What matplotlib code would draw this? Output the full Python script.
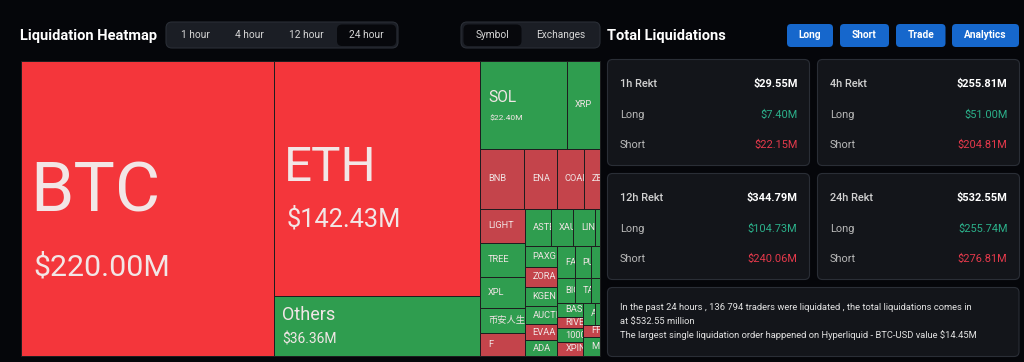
import matplotlib
matplotlib.use("Agg")
import matplotlib.pyplot as plt
from matplotlib.patches import Rectangle, FancyBboxPatch
from matplotlib.transforms import Bbox

# ---- data (USD millions) ----
coins = ["BTC", "ETH", "Others",
         "SOL", "XRP",
         "BNB", "ENA", "COAI", "ZEC",
         "LIGHT", "TREE", "XPL", "币安人生", "F",
         "ASTER", "XAUT", "LINK", "SUI",
         "PAXG", "ZORA", "KGEN", "AUCTION", "EVAA", "ADA",
         "FARTCOIN", "PUMP", "AVAX",
         "BIO", "TAO", "WLD",
         "BAS", "RIVER", "1000PEPE", "XPIN",
         "AAVE", "ONDO",
         "FF",
         "MITO"]
values = [220.00, 142.43, 36.36,
          22.40, 8.60,
          7.75, 5.80, 4.70, 2.90,
          4.45, 4.45, 4.05, 3.30, 3.00,
          2.88, 2.50, 2.43, 0.51,
          1.96, 1.91, 1.86, 1.72, 1.53, 1.52,
          1.60, 1.52, 0.80,
          1.28, 1.23, 0.64,
          1.05, 0.87, 1.04, 1.06,
          0.81, 0.31,
          0.58,
          0.98]
# which side dominated the liquidations: S = shorts (red), L = longs (green)
side = ["S", "S", "L",
        "L", "L",
        "S", "S", "S", "S",
        "S", "L", "L", "L", "S",
        "L", "L", "L", "L",
        "L", "S", "L", "L", "S", "L",
        "L", "L", "L",
        "L", "L", "L",
        "L", "S", "L", "S",
        "L", "L",
        "S",
        "L"]
# tiling order: (orientation, number of coins in strip)
strips = [("v", 1), ("v", 2), ("h", 2), ("h", 4), ("v", 5), ("h", 4), ("v", 6),
          ("h", 3), ("h", 3), ("v", 4), ("h", 2), ("h", 1), ("h", 1)]

periods = ["1h", "4h", "12h", "24h"]
total_rekt = [29.55, 255.81, 344.79, 532.55]
long_rekt = [7.40, 51.00, 104.73, 255.74]
short_rekt = [22.15, 204.81, 240.06, 276.81]

timeframes = ["1 hour", "4 hour", "12 hour", "24 hour"]
views = ["Symbol", "Exchanges"]
buttons = ["Long", "Short", "Trade", "Analytics"]

summary = ["In the past 24 hours , 136 794 traders were liquidated , the total liquidations comes in",
           "at $532.55 million",
           "The largest single liquidation order happened on Hyperliquid - BTC-USD value $14.45M"]

# ---- style ----
BG = "#05060a"
PANEL = "#13151a"
EDGE = "#2a2e36"
RED_BIG = "#f4363b"
RED = "#c4444b"
GREEN = "#2f9d4f"
TXT_GREEN = "#2bb08a"
TXT_RED = "#e5394b"
FONT = "Roboto"

plt.rcParams["font.family"] = [FONT, "Noto Sans CJK SC", "DejaVu Sans"]

fig = plt.figure(figsize=(10.24, 3.62), dpi=100, facecolor=BG)
ax = fig.add_axes([0, 0, 1, 1])
ax.set_xlim(0, 1024)
ax.set_ylim(362, 0)
ax.axis("off")
ax.set_facecolor(BG)


def box(x, y, w, h, fc, ec="none", r=5, lw=0.8, z=1):
    ax.add_patch(FancyBboxPatch((x, y), w, h, boxstyle=f"round,pad=0,rounding_size={r}",
                                fc=fc, ec=ec, lw=lw, zorder=z))


def strip_layout(vals, plan, x0, y0, x1, y1):
    rects = []
    rest = sum(vals)
    i = 0
    for orient, n in plan:
        grp = vals[i:i + n]
        s = sum(grp)
        if orient == "v":
            w = (x1 - x0) * s / rest
            y = y0
            for v in grp:
                h = (y1 - y0) * v / s
                rects.append((x0, y, w, h))
                y += h
            x0 += w
        else:
            h = (y1 - y0) * s / rest
            x = x0
            for v in grp:
                w = (x1 - x0) * v / s
                rects.append((x, y0, w, h))
                x += w
            y0 += h
        rest -= s
        i += n
    return rects


def clip_to(t, x, y, w, h):
    (ax0, ay0), (ax1, ay1) = ax.transData.transform([(x, y), (x + w, y + h)])
    t.set_clip_box(Bbox.from_extents(min(ax0, ax1), min(ay0, ay1), max(ax0, ax1), max(ay0, ay1)))
    t.set_clip_on(True)


# ---- header ----
ax.text(20, 36, "Liquidation Heatmap", color="white", fontsize=10.5, fontweight="bold",
        va="center", ha="left")
box(166, 22, 232, 26, "#1b1e25", EDGE, r=6)
box(337, 24.5, 59, 21.5, "#07080c", r=5, z=2)
for name, cx in zip(timeframes, [195, 249, 306.5, 366.5]):
    ax.text(cx, 35.5, name, color="#d6d6d6", fontsize=7.3, ha="center", va="center", zorder=3)

box(461, 22, 139, 26, "#1b1e25", EDGE, r=6)
box(463.5, 24.5, 58, 21.5, "#07080c", r=5, z=2)
for name, cx in zip(views, [492.5, 560.5]):
    ax.text(cx, 35.5, name, color="#d6d6d6", fontsize=7.3, ha="center", va="center", zorder=3)

ax.text(607, 36, "Total Liquidations", color="white", fontsize=10.5, fontweight="bold",
        va="center", ha="left")
for name, (bx, bw) in zip(buttons, [(787, 46), (840, 49), (896, 49.5), (952, 67)]):
    box(bx, 24, bw, 23, "#1667cc", r=4)
    ax.text(bx + bw / 2, 35.5, name, color="white", fontsize=7.3, fontweight="bold",
            ha="center", va="center", zorder=3)

# ---- treemap ----
cells = strip_layout(values, strips, 20.5, 61, 600, 356)
# name size, value size, name y-fraction, value y-fraction, name pad, value pad
big_labels = {"BTC": (50, 21.8, 0.445, 0.70, 10, 13), "ETH": (35.5, 18.3, 0.455, 0.672, 10, 13),
              "Others": (13, 10.0, 0.32, 0.72, 8, 8), "SOL": (11.2, 6.1, 0.42, 0.645, 8, 9)}
for name, v, sd, (x, y, w, h) in zip(coins, values, side, cells):
    if sd == "S":
        fc = RED_BIG if v > 100 else RED
    else:
        fc = GREEN
    ax.add_patch(Rectangle((x, y), w, h, fc=fc, ec="#1d1d1f", lw=0.7, zorder=2))
    if name in big_labels:
        fs1, fs2, f1, f2, dx1, dx2 = big_labels[name]
        t1 = ax.text(x + dx1, y + h * f1, name, color="#f2e6e6", fontsize=fs1,
                     ha="left", va="center", zorder=3)
        t2 = ax.text(x + dx2, y + h * f2, f"${v:.2f}M", color="#f2e6e6", fontsize=fs2,
                     ha="left", va="center", zorder=3)
        clip_to(t1, x, y, w, h)
        clip_to(t2, x, y, w, h)
    elif w > 9:
        # tiny slivers show no label at all
        t = ax.text(x + min(8, w - 4), y + h / 2, name, color="#f0e4e4", fontsize=6.7,
                    ha="left", va="center", zorder=3)
        clip_to(t, x, y, w, h)

# ---- stat cards ----
card_pos = [(607.5, 59.5), (817.5, 59.5), (607.5, 173.5), (817.5, 173.5)]
for (cx, cy), p, tot, lg, sh in zip(card_pos, periods, total_rekt, long_rekt, short_rekt):
    box(cx, cy, 202, 106, PANEL, EDGE, r=5)
    ax.text(cx + 12.5, cy + 24.5, f"{p} Rekt", color="#d2d2d2", fontsize=7.9,
            fontweight="medium", ha="left", va="center", zorder=3)
    ax.text(cx + 190, cy + 24.5, f"${tot:.2f}M", color="white", fontsize=7.9,
            fontweight="bold", ha="right", va="center", zorder=3)
    ax.text(cx + 12.5, cy + 55, "Long", color="#b8b8b8", fontsize=7.9,
            ha="left", va="center", zorder=3)
    ax.text(cx + 190, cy + 55, f"${lg:.2f}M", color=TXT_GREEN, fontsize=7.9,
            ha="right", va="center", zorder=3)
    ax.text(cx + 12.5, cy + 85, "Short", color="#b8b8b8", fontsize=7.9,
            ha="left", va="center", zorder=3)
    ax.text(cx + 190, cy + 85, f"${sh:.2f}M", color=TXT_RED, fontsize=7.9,
            ha="right", va="center", zorder=3)

box(607.5, 287.5, 411.5, 69, PANEL, EDGE, r=5)
for line, ly in zip(summary, [307.5, 321.5, 335]):
    ax.text(620, ly, line, color="#e2e2e2", fontsize=6.78, ha="left", va="center", zorder=3)

fig.savefig("out.png", dpi=100, facecolor=BG)
